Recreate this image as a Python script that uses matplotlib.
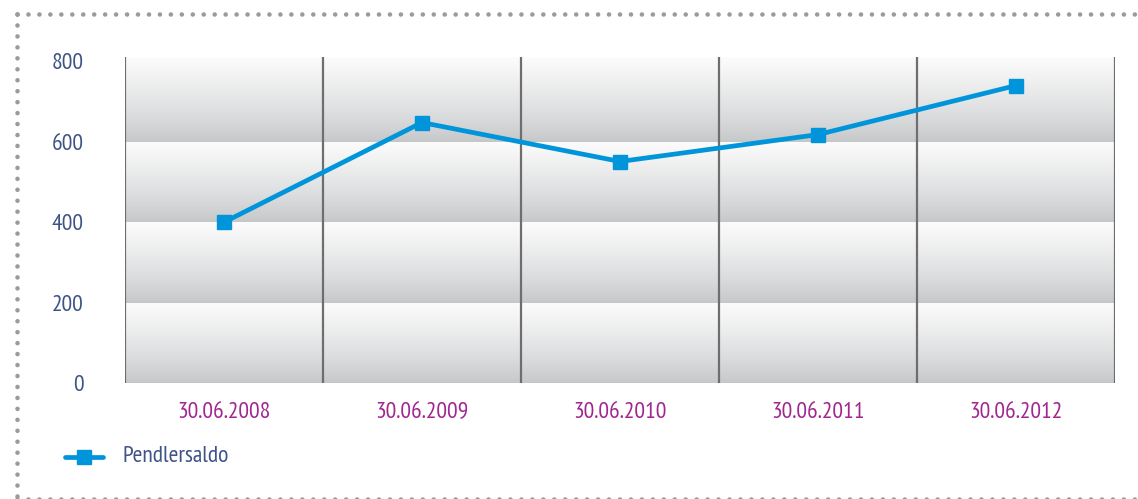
import numpy as np
import matplotlib.pyplot as plt
from matplotlib.lines import Line2D
from matplotlib.colors import LinearSegmentedColormap

# ---- data ----
dates = ['30.06.2008', '30.06.2009', '30.06.2010', '30.06.2011', '30.06.2012']
pendlersaldo = [400, 648, 551, 618, 740]
y_ticks = [0, 200, 400, 600, 800]

# ---- style ----
LINE_BLUE = '#0095da'
YTICK_COLOR = '#3e5487'
XTICK_COLOR = '#a0278f'
GRID_COLOR = '#6e6e6e'
DOT_COLOR = '#9a9b9e'

# condensed face first, fall back if missing
plt.rcParams['font.family'] = ['PT Sans Narrow', 'Fira Sans Condensed',
                               'Roboto Condensed', 'DejaVu Sans']

fig = plt.figure(figsize=(11.38, 4.99), dpi=100)
ax = fig.add_axes([125 / 1138, 1 - 383 / 499, 990 / 1138, 326 / 499])

x = np.arange(len(dates))
ymax = 811
ax.set_xlim(-0.5, len(dates) - 0.5)
ax.set_ylim(0, ymax)

# gradient bands between the y ticks (white at top, grey at bottom)
band_cmap = LinearSegmentedColormap.from_list(
    'band', [(0, '#c5c6c8'), (0.45, '#dedfe0'), (1, '#fcfcfc')])
grad = np.linspace(0, 1, 256).reshape(-1, 1) ** 0.8
edges = y_ticks[:-1] + [ymax]
for lo, hi in zip(edges[:-1], edges[1:]):
    ax.imshow(grad, cmap=band_cmap, aspect='auto', origin='lower',
              extent=(-0.5, len(dates) - 0.5, lo, hi),
              zorder=0, interpolation='bilinear')

for b in np.arange(-0.5, len(dates), 1.0):
    ax.axvline(b, color=GRID_COLOR, linewidth=1.6, zorder=1)

ax.plot(x, pendlersaldo, color=LINE_BLUE, linewidth=3.4, marker='s',
        markersize=9.5, zorder=3, solid_joinstyle='round')

for s in ax.spines.values():
    s.set_visible(False)
ax.set_xticks(x)
ax.set_xticklabels(dates, color=XTICK_COLOR, fontsize=17)
ax.set_yticks(y_ticks)
ax.set_yticklabels([str(v) for v in y_ticks], color=YTICK_COLOR, fontsize=17)
ax.tick_params(axis='x', length=0, pad=14)
ax.tick_params(axis='y', length=0, pad=30)

# legend drawn by hand at lower left
fig.lines.append(Line2D([65 / 1138, 103 / 1138], [1 - 457 / 499] * 2,
                        transform=fig.transFigure, color=LINE_BLUE,
                        linewidth=3.4, solid_capstyle='round'))
fig.lines.append(Line2D([84 / 1138], [1 - 457 / 499], transform=fig.transFigure,
                        color=LINE_BLUE, marker='s', markersize=9.5, linestyle='none'))
fig.text(122 / 1138, 1 - 457 / 499, 'Pendlersaldo', color=YTICK_COLOR,
         fontsize=17, va='center', ha='left')

# dotted frame
dot_style = dict(transform=fig.transFigure, color=DOT_COLOR, linewidth=3.3,
                 linestyle=(0, (0.01, 2.38)), dash_capstyle='round')
fig.lines.append(Line2D([17 / 1138, 1.0], [1 - 14 / 499] * 2, **dot_style))
fig.lines.append(Line2D([17 / 1138] * 2, [1 - 14 / 499, 0.0], **dot_style))
fig.lines.append(Line2D([17 / 1138, 1.0], [0.5 / 499] * 2, **dot_style))

fig.savefig('out.png', dpi=100, facecolor='white')
plt.close(fig)
